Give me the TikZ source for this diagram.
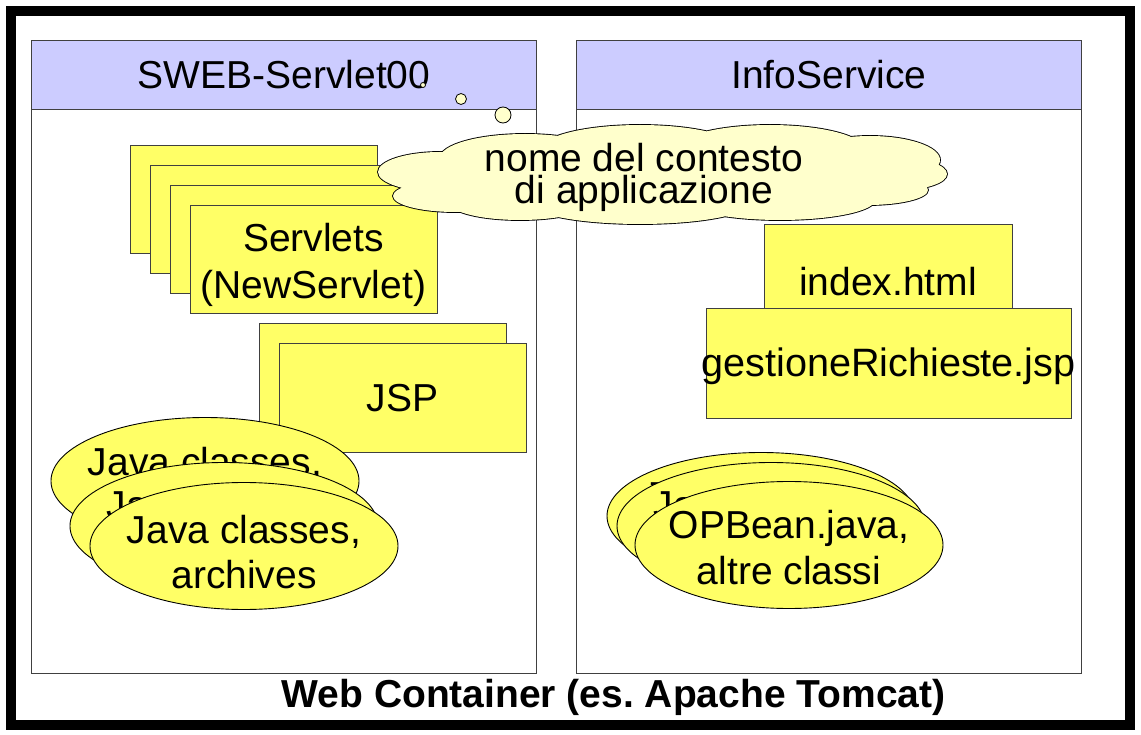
\documentclass[tikz,border=0pt]{standalone}
\usepackage{fontspec}
\setmainfont{Liberation Sans}
\usetikzlibrary{shapes.geometric}
\definecolor{hdr}{HTML}{CCCCFF}
\definecolor{yel}{HTML}{FFFF66}
\definecolor{cld}{HTML}{FFFFCC}
\definecolor{edgec}{HTML}{404040}
\frenchspacing
\begin{document}
\begin{tikzpicture}[x=1pt,y=-1pt,
  txt/.style={font=\fontsize{39}{47}\selectfont, align=center, inner sep=0pt},
  etxt/.style={font=\fontsize{39}{45}\selectfont, align=center, inner sep=0pt},
  panel/.style={draw=edgec, line width=1pt, fill=white, minimum width=505pt, minimum height=633pt, anchor=north west, inner sep=0pt},
  hdrbox/.style={draw=edgec, line width=1pt, fill=hdr, minimum width=505pt, minimum height=69pt, anchor=north west, txt},
  ybox/.style={draw=edgec, line width=1pt, fill=yel, minimum width=247pt, minimum height=108pt, inner sep=0pt},
  yell/.style={ellipse, draw=black, line width=0.9pt, fill=yel, minimum width=308pt, minimum height=127pt, inner sep=0pt},
  bubble/.style={circle, draw=black, line width=0.8pt, fill=cld, inner sep=0pt},
]
\useasboundingbox (0,0) rectangle (1141,735);
\fill[white] (0,0) rectangle (1141,735);
\node[draw=black, line width=10pt, minimum width=1119pt, minimum height=714pt, inner sep=0pt] (frame) at (570.5,368) {};

% panels
\node[panel] (lpanel) at (31,40) {};
\node[hdrbox] (lhdr) at (31,40) {SWEB-Servlet00};
\node[panel] (rpanel) at (576,40) {};
\node[hdrbox] (rhdr) at (576,40) {InfoService};

% servlets stack
\node[ybox] (s1) at (254,200) {};
\node[ybox] (s2) at (274,220) {};
\node[ybox] (s3) at (294,240) {};
\node[ybox] (s4) at (313.5,260) {};
\node[txt] (s4t) at (313.5,265) {Servlets\\(NewServlet)};

% JSP stack
\node[ybox] (j1) at (382.5,378) {};
\node[ybox] (j2) at (402.5,398) {};
\node[txt] (j2t) at (402.5,398) {JSP};

% java classes ellipses
\node[yell] (e1) at (205,481) {};
\node[etxt] (e1t) at (205,484) {Java classes,\\archives};
\node[yell] (e2) at (224,526) {};
\node[etxt] (e2t) at (224,527) {Java classes,\\archives};
\node[yell] (e3) at (244,546) {};
\node[etxt] (e3t) at (244,552) {Java classes,\\archives};

% right side
\node[draw=edgec, line width=1pt, fill=yel, minimum width=248pt, minimum height=84pt, inner sep=0pt] (idx) at (888,267) {};
\node[txt] (idxt) at (888,282) {index.html};
\node[draw=edgec, line width=1pt, fill=yel, minimum width=365pt, minimum height=109pt, inner sep=0pt] (gest) at (888.5,363.5) {};
\node[txt, font=\fontsize{39.6}{47}\selectfont] (gestt) at (888.5,366) {gestioneRichieste.jsp};

\node[yell] (r1) at (761,516) {};
\node[etxt] (r1t) at (761,518) {Java classes,\\archives};
\node[yell] (r2) at (771,526) {};
\node[etxt] (r2t) at (771,527) {Java classes,\\archives};
\node[yell] (r3) at (789,545) {};
\node[etxt, font=\fontsize{39}{46}\selectfont] (r3t) at (789,548) {OPBean.java,\\altre classi};

% cloud (union of lobes)
\def\cloudlobes{
  (440,172) ellipse [x radius=62, y radius=20]
  (455,196) ellipse [x radius=62, y radius=16]
  (525,158) ellipse [x radius=85, y radius=24]
  (640,150) ellipse [x radius=100, y radius=25]
  (770,150) ellipse [x radius=95, y radius=25]
  (870,160) ellipse [x radius=70, y radius=24]
  (900,174) ellipse [x radius=47, y radius=16]
  (868,190) ellipse [x radius=60, y radius=15]
  (780,200) ellipse [x radius=95, y radius=20]
  (640,203) ellipse [x radius=110, y radius=21]
  (520,203) ellipse [x radius=70, y radius=17]
  (660,178) ellipse [x radius=230, y radius=35]
}
\draw[black, line width=1.8pt] \cloudlobes;
\fill[cld] \cloudlobes;
\node[txt, font=\fontsize{39}{32}\selectfont] (cloudt) at (644,177) {nome del contesto\\di applicazione};
\node[bubble, minimum size=5pt] (b1) at (423,85) {};
\node[bubble, minimum size=11pt] (b2) at (461,99) {};
\node[bubble, minimum size=16pt] (b3) at (503,115) {};

% title
\node[font=\bfseries\fontsize{39}{47}\selectfont, inner sep=0pt] (title) at (613.5,697) {Web Container (es. Apache Tomcat)};
\end{tikzpicture}
\end{document}
